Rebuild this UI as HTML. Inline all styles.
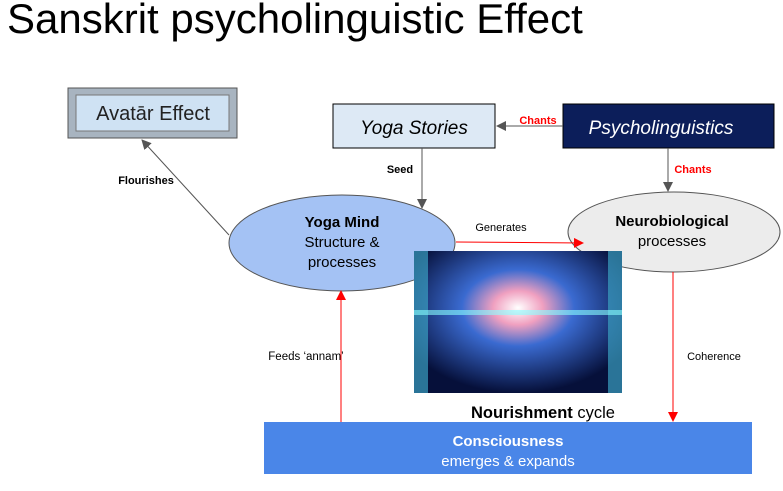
<html><body style="margin:0;width:783px;height:491px;background:#fff;position:relative;overflow:hidden;font-family:'Liberation Sans',sans-serif">
<div style="position:absolute;left:7px;top:-5px;font-size:42px;color:#000;white-space:nowrap">Sanskrit psycholinguistic Effect</div>
<svg width="783" height="491" style="position:absolute;left:0;top:0">
<defs>
<marker id="g" markerWidth="10" markerHeight="10" refX="9" refY="5" orient="auto" markerUnits="userSpaceOnUse"><path d="M0,0 L10,5 L0,10 z" fill="#555"/></marker>
<marker id="r" markerWidth="10" markerHeight="10" refX="9" refY="5" orient="auto" markerUnits="userSpaceOnUse"><path d="M0,0 L10,5 L0,10 z" fill="#f00"/></marker>
<radialGradient id="br" cx="50%" cy="40%" r="60%"><stop offset="0" stop-color="#fff"/><stop offset="0.2" stop-color="#f0a0c0"/><stop offset="0.45" stop-color="#3a6ad0"/><stop offset="1" stop-color="#06103a"/></radialGradient>
</defs>
<rect x="68" y="88" width="169" height="50" fill="#a8b4c0" stroke="#555"/>
<rect x="76" y="95" width="153" height="36" fill="#cfe2f3" stroke="#777"/>
<text x="153" y="120" font-size="20" text-anchor="middle" fill="#222">Avatār Effect</text>
<rect x="333" y="104" width="162" height="44" fill="#dde9f5" stroke="#000"/>
<text x="414" y="134" font-size="19" font-style="italic" text-anchor="middle">Yoga Stories</text>
<rect x="563" y="104" width="211" height="44" fill="#0c1e5a" stroke="#000"/>
<text x="661" y="134" font-size="19" font-style="italic" fill="#fff" text-anchor="middle">Psycholinguistics</text>
<line x1="563" y1="126" x2="497" y2="126" stroke="#555" marker-end="url(#g)"/>
<text x="538" y="124" font-size="11" font-weight="bold" fill="#f00" text-anchor="middle">Chants</text>
<line x1="668" y1="148" x2="668" y2="191" stroke="#555" marker-end="url(#g)"/>
<text x="693" y="173" font-size="11" font-weight="bold" fill="#f00" text-anchor="middle">Chants</text>
<line x1="422" y1="148" x2="422" y2="208" stroke="#555" marker-end="url(#g)"/>
<text x="400" y="173" font-size="11" font-weight="bold" text-anchor="middle">Seed</text>
<line x1="229" y1="235" x2="142" y2="140" stroke="#555" marker-end="url(#g)"/>
<text x="146" y="184" font-size="11" font-weight="bold" text-anchor="middle">Flourishes</text>
<ellipse cx="342" cy="243" rx="113" ry="48" fill="#a4c2f4" stroke="#555"/>
<text x="342" y="227" font-size="15" font-weight="bold" text-anchor="middle">Yoga Mind</text>
<text x="342" y="247" font-size="15" text-anchor="middle">Structure &amp;</text>
<text x="342" y="267" font-size="15" text-anchor="middle">processes</text>
<ellipse cx="674" cy="232" rx="106" ry="40" fill="#ececec" stroke="#555"/>
<text x="672" y="226" font-size="15" font-weight="bold" text-anchor="middle">Neurobiological</text>
<text x="672" y="246" font-size="15" text-anchor="middle">processes</text>
<line x1="456" y1="242" x2="583" y2="243" stroke="#f00" marker-end="url(#r)"/>
<text x="501" y="231" font-size="11" text-anchor="middle">Generates</text>
<rect x="414" y="251" width="208" height="142" fill="url(#br)"/>
<rect x="414" y="251" width="14" height="142" fill="#3aa0c0" opacity="0.7"/>
<rect x="608" y="251" width="14" height="142" fill="#3aa0c0" opacity="0.7"/>
<rect x="414" y="310" width="208" height="5" fill="#8ff" opacity="0.6"/>
<line x1="673" y1="272" x2="673" y2="421" stroke="#f00" marker-end="url(#r)"/>
<text x="714" y="360" font-size="11" text-anchor="middle">Coherence</text>
<line x1="341" y1="428" x2="341" y2="291" stroke="#f00" marker-end="url(#r)"/>
<text x="306" y="360" font-size="11.5" text-anchor="middle">Feeds ‘annam’</text>
<text x="543" y="418" font-size="16.5" text-anchor="middle"><tspan font-weight="bold">Nourishment</tspan> cycle</text>
<rect x="264" y="422" width="488" height="52" fill="#4a86e8"/>
<text x="508" y="446" font-size="15" font-weight="bold" fill="#fff" text-anchor="middle">Consciousness</text>
<text x="508" y="466" font-size="15" fill="#fff" text-anchor="middle">emerges &amp; expands</text>
</svg>
</body></html>
